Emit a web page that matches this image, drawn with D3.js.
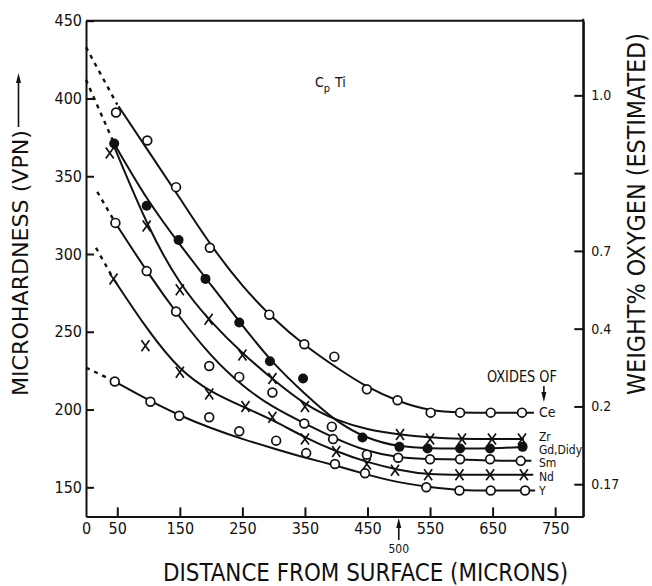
<!DOCTYPE html>
<html>
<head>
<meta charset="utf-8">
<script src="https://cdnjs.cloudflare.com/ajax/libs/d3/7.8.5/d3.min.js"></script>
<style>
body{margin:0;background:#fff}
svg text{font-family:"Liberation Sans Narrow","DejaVu Sans Condensed","Roboto Condensed","Arial Narrow",sans-serif;font-stretch:condensed;fill:#111}
</style>
</head>
<body>
<svg id="chart"></svg>
<script>
var oxides = ["Ce", "Zr", "Gd,Didy", "Sm", "Nd", "Y"];
var markers = ["open", "cross", "filled", "open", "cross", "open"];

// measured points: distance (microns) / microhardness (VPN)
var ceDist = [48, 98, 144, 198, 293, 349, 397, 449, 498, 551, 598, 647, 697];
var ceHard = [391, 373, 343, 304, 261, 242, 234, 213, 206, 198, 198, 198, 198];
var zrDist = [38, 97, 150, 196, 250, 298, 350, 502, 550, 601, 649, 697];
var zrHard = [365, 318, 277, 258, 235, 220, 202, 184, 181, 181, 181, 181];
var gdDist = [45, 97, 148, 191, 245, 294, 347, 442, 501, 546, 598, 646, 698];
var gdHard = [371, 331, 309, 284, 256, 231, 220, 182, 176, 175, 175, 175, 176];
var smDist = [47, 97, 144, 197, 245, 298, 349, 393, 395, 449, 499, 550, 598, 646, 695];
var smHard = [320, 289, 263, 228, 221, 211, 191, 189, 181, 171, 169, 168, 168, 168, 167];
var ndDist = [44, 95, 150, 197, 255, 298, 350, 400, 449, 494, 547, 597, 646, 700];
var ndHard = [284, 241, 224, 210, 202, 195, 181, 173, 165, 161, 158, 158, 158, 158];
var yDist = [46, 103, 149, 197, 245, 304, 352, 398, 446, 544, 597, 647, 702];
var yHard = [218, 205, 196, 195, 186, 180, 172, 165, 159, 150, 148, 148, 148];

// hand drawn fit curves
var ceFitDist = [52, 100, 150, 200, 250, 300, 350, 400, 450, 500, 550, 600, 650, 716];
var ceFitHard = [395, 366, 336, 305, 279, 258, 241, 227, 214, 205, 199, 198, 198, 198];
var zrFitDist = [45, 100, 150, 200, 250, 300, 350, 400, 450, 500, 550, 600, 650, 700];
var zrFitHard = [369, 316, 280, 256, 236, 219, 203, 193, 187, 184, 182, 181, 181, 181];
var gdFitDist = [45, 100, 150, 200, 250, 300, 350, 400, 450, 500, 550, 600, 650, 700];
var gdFitHard = [371, 333, 306, 280, 254, 229, 210, 192, 181, 176, 175, 175, 175, 176];
var smFitDist = [47, 100, 150, 200, 250, 300, 350, 400, 450, 500, 550, 600, 650, 712];
var smFitHard = [320, 287, 259, 234, 215, 201, 191, 181, 173, 169, 168, 168, 167, 167];
var ndFitDist = [44, 100, 150, 200, 250, 300, 350, 400, 450, 500, 550, 600, 650, 715];
var ndFitHard = [284, 250, 225, 211, 202, 193, 182, 173, 166, 161, 158, 158, 158, 158];
var yFitDist = [46, 100, 150, 200, 250, 300, 350, 400, 450, 500, 550, 600, 650, 718];
var yFitHard = [218, 206, 196, 188, 181, 175, 169, 164, 158, 153, 150, 148, 148, 148];

// dashed extrapolation towards the surface
var ceDashDist = [0, 50], ceDashHard = [433, 396];
var gdDashDist = [0, 45], gdDashHard = [412, 371];
var smDashDist = [18, 47], smDashHard = [340, 320];
var ndDashDist = [16, 44], ndDashHard = [304, 284];
var yDashDist = [0, 46], yDashHard = [227, 218];

var hardTicks = [150, 200, 250, 300, 350, 400, 450];
var distTicks = [0, 50, 150, 250, 350, 450, 550, 650, 750];
var oxygenLabels = ["1.0", "", "0.7", "0.4", "0.2", "0.17"];
var oxygenAtHard = [402, 352, 302, 252, 202, 152];

var attrs = function(sel, o){
   for(var k in o) sel.attr(k, o[k]);
   return sel;
}

var HardnessChart = function(id){
   this.init = function(id){
      this.w = 652;
      this.h = 586;
      this.s = d3.select("#"+id);
      attrs(this.s, {width:this.w, height:this.h});
      this.x = d3.scaleLinear().domain([0, 795]).range([86, 583.3]);
      this.y = d3.scaleLinear().domain([131.3, 450]).range([516.4, 20.7]);
      this.series = [
         {name:oxides[0], m:markers[0], d:ceDist, v:ceHard, fd:ceFitDist, fv:ceFitHard, dd:ceDashDist, dv:ceDashHard, ly:198},
         {name:oxides[1], m:markers[1], d:zrDist, v:zrHard, fd:zrFitDist, fv:zrFitHard, dd:null, dv:null, ly:182.5},
         {name:oxides[2], m:markers[2], d:gdDist, v:gdHard, fd:gdFitDist, fv:gdFitHard, dd:gdDashDist, dv:gdDashHard, ly:174},
         {name:oxides[3], m:markers[3], d:smDist, v:smHard, fd:smFitDist, fv:smFitHard, dd:smDashDist, dv:smDashHard, ly:165.5},
         {name:oxides[4], m:markers[4], d:ndDist, v:ndHard, fd:ndFitDist, fv:ndFitHard, dd:ndDashDist, dv:ndDashHard, ly:156.5},
         {name:oxides[5], m:markers[5], d:yDist, v:yHard, fd:yFitDist, fv:yFitHard, dd:yDashDist, dv:yDashHard, ly:147.5}
      ];
      this.axes();
      this.curves();
      this.points();
      this.labels();
   }

   this.arrow = function(x, y1, y2){
      // vertical arrow, head at y2
      var dir = y2 < y1 ? 1 : -1;
      this.s.append("line").attr("x1", x).attr("x2", x).attr("y1", y1).attr("y2", y2+dir*6)
         .attr("stroke", "#111").attr("stroke-width", 1.6);
      this.s.append("path")
         .attr("d", "M"+x+","+y2+"L"+(x-2.5)+","+(y2+dir*10)+"L"+(x+2.5)+","+(y2+dir*10)+"Z")
         .attr("fill", "#111");
   }

   this.axes = function(){
      var x = this.x, y = this.y;
      var ax = this.s.append("g").attr("class", "axes");

      var left = ax.append("g").attr("transform", "translate("+x(0)+",0)")
         .call(d3.axisLeft(y).tickValues(hardTicks).tickSizeInner(-8).tickSizeOuter(0).tickPadding(4));
      var bottom = ax.append("g").attr("transform", "translate(0,"+y(131.3)+")")
         .call(d3.axisBottom(x).tickValues(distTicks).tickSizeInner(-9).tickSizeOuter(0).tickPadding(6));
      bottom.selectAll(".tick").filter(function(d){return d == 0}).select("line").remove();
      var right = ax.append("g").attr("transform", "translate("+x(795)+",0)")
         .call(d3.axisRight(y).tickValues(oxygenAtHard)
            .tickFormat(function(d,i){return oxygenLabels[i]})
            .tickSizeInner(-9).tickSizeOuter(0).tickPadding(8));
      ax.append("line")
         .attr("x1", x(0)).attr("x2", x(795)).attr("y1", y(450)).attr("y2", y(450));
      ax.append("line")
         .attr("x1", x(795)).attr("x2", x(795)).attr("y1", y(450)-2).attr("y2", y(131.3));

      ax.selectAll("path.domain").attr("stroke", "#111").attr("stroke-width", 2);
      ax.selectAll("line").attr("stroke", "#111").attr("stroke-width", 2);
      ax.selectAll("text").attr("fill", "#111");
      left.selectAll("text").style("font-size", "16px");
      bottom.selectAll("text").style("font-size", "16px");
      right.selectAll("text").style("font-size", "14px");
      ax.selectAll("g").attr("font-family", null).attr("font-size", null);
   }

   this.curves = function(){
      var that = this;
      var g = this.s.append("g").attr("class", "curves");
      var line = d3.line()
         .x(function(p){return that.x(p[0])})
         .y(function(p){return that.y(p[1])})
         .curve(d3.curveBasis);
      var dash = d3.line()
         .x(function(p){return that.x(p[0])})
         .y(function(p){return that.y(p[1])});
      this.series.forEach(function(s){
         var pts = s.fd.map(function(d,i){return [d, s.fv[i]]});
         attrs(g.append("path"), {d:line(pts), fill:"none", stroke:"#111", "stroke-width":2});
         if(s.dd){
            var dp = s.dd.map(function(d,i){return [d, s.dv[i]]});
            attrs(g.append("path"), {d:dash(dp), fill:"none", stroke:"#111",
               "stroke-width":2.4, "stroke-dasharray":"4,5"});
         }
      });
   }

   this.points = function(){
      var that = this;
      var g = this.s.append("g").attr("class", "points");
      this.series.forEach(function(s){
         s.d.forEach(function(d,i){
            var px = that.x(d), py = that.y(s.v[i]);
            if(s.m == "open"){
               attrs(g.append("circle"), {cx:px, cy:py, r:4.4, fill:"#fff", stroke:"#111", "stroke-width":1.7});
            }
            else if(s.m == "filled"){
               attrs(g.append("circle"), {cx:px, cy:py, r:5, fill:"#111"});
            }
            else{
               attrs(g.append("path"), {
                  d:"M-4,-5.5L4,5.5M-4,5.5L4,-5.5",
                  transform:"translate("+px+","+py+")",
                  fill:"none", stroke:"#111", "stroke-width":1.7
               });
            }
         });
      });
   }

   this.labels = function(){
      var x = this.x, y = this.y;
      var g = this.s.append("g").attr("class", "labels");

      // curve names at the right hand end, packed tight like the original
      this.series.forEach(function(s, i){
         attrs(g.append("text"), {x:x(724), y:y(s.ly), dy:"0.34em"})
            .style("font-size", i == 0 ? "14px" : "12px").text(s.name);
      });

      attrs(g.append("text"), {x:487, y:382, textLength:70, lengthAdjust:"spacingAndGlyphs"})
         .style("font-size", "15px").text("OXIDES OF");
      this.arrow(x(732), 386, 402);

      var cp = attrs(g.append("text"), {x:315, y:87}).style("font-size", "14px");
      cp.append("tspan").text("C");
      cp.append("tspan").attr("dy", 5).style("font-size", "11px").text("p");
      cp.append("tspan").attr("dy", -5).attr("dx", 5).text("Ti");

      // axis titles
      attrs(g.append("text"), {transform:"translate(28,263) rotate(-90)", "text-anchor":"middle",
         textLength:266, lengthAdjust:"spacingAndGlyphs"})
         .style("font-size", "22px").text("MICROHARDNESS (VPN)");
      this.arrow(18.5, 127, 73);

      attrs(g.append("text"), {transform:"translate(645,214) rotate(-90)", "text-anchor":"middle",
         textLength:362, lengthAdjust:"spacingAndGlyphs"})
         .style("font-size", "24px").text("WEIGHT% OXYGEN (ESTIMATED)");

      attrs(g.append("text"), {x:365.5, y:581, "text-anchor":"middle",
         textLength:405, lengthAdjust:"spacingAndGlyphs"})
         .style("font-size", "24px").text("DISTANCE FROM SURFACE (MICRONS)");

      attrs(g.append("text"), {x:x(500), y:553, "text-anchor":"middle"})
         .style("font-size", "12px").text("500");
      this.arrow(x(500), 540, 518);
   }

   this.init(id);
}

var chart = new HardnessChart("chart");
</script>
</body>
</html>
